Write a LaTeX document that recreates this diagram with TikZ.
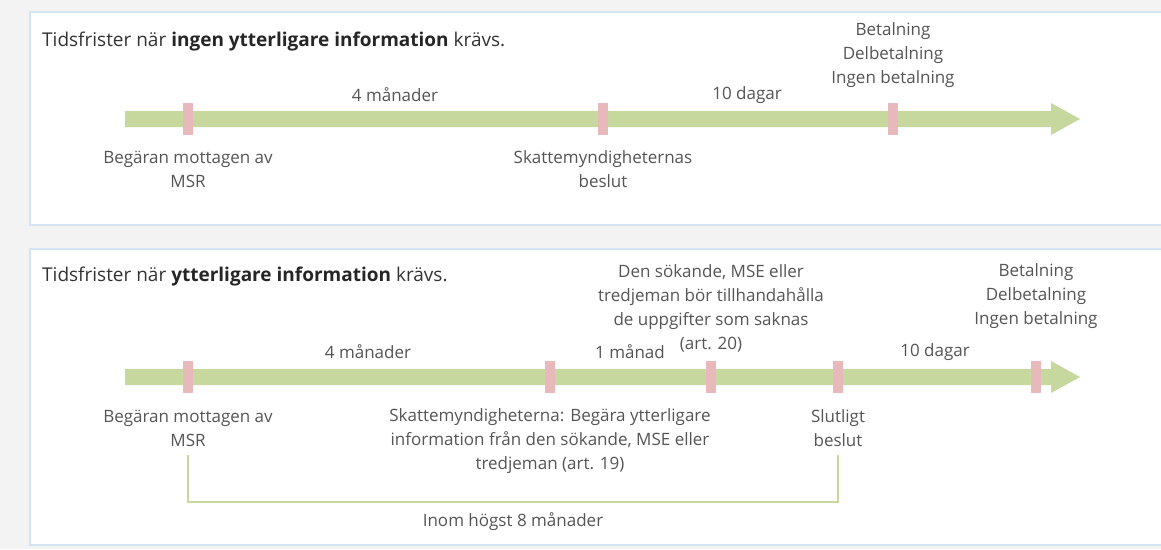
\documentclass[tikz,border=0pt]{standalone}
\usepackage{fontspec}
\setmainfont{Open Sans}
\definecolor{barc}{HTML}{C6D89E}
\definecolor{tickc}{HTML}{E8B9BA}
\definecolor{framec}{HTML}{D3E3F1}
\definecolor{bgc}{HTML}{F3F3F3}
\definecolor{lblc}{HTML}{555555}
\definecolor{ttlc}{HTML}{333333}
\tikzset{
 lab/.style={text=lblc, font=\fontsize{17}{24}\selectfont, align=center, inner sep=0pt},
 ttlstyle/.style={text=ttlc, font=\fontsize{19}{22}\selectfont, anchor=west, inner sep=0pt},
 tickmark/.style={fill=tickc, minimum width=10pt, minimum height=32pt, inner sep=0pt, draw=none},
 panel/.style={fill=white, draw=framec, line width=2pt},
 bracket/.style={draw=barc, line width=2.5pt},
 timebar/.style={fill=barc},
}
\begin{document}
\begin{tikzpicture}[x=1pt,y=-1pt]
\useasboundingbox (0,0) rectangle (1161,549);
\fill[bgc] (0,0) rectangle (1161,549);
% panels
\draw[panel] (30,12) rectangle (1164,225);
\draw[panel] (30,249) rectangle (1164,545);
% titles
\node[ttlstyle] (title1) at (42,42) {Tidsfrister när \textbf{\color{black!85}ingen ytterligare information} krävs.};
\node[ttlstyle] (title2) at (42,277) {Tidsfrister när \textbf{\color{black!85}ytterligare information} krävs.};
% timeline 1
\fill[timebar] (125,111) -- (1051,111) -- (1051,103) -- (1080,119) -- (1051,135) -- (1051,127) -- (125,127) -- cycle;
\node[tickmark] (t1a) at (188,119) {};
\node[tickmark] (t1b) at (603,119) {};
\node[tickmark] (t1c) at (893,119) {};
\node[lab] (l1a) at (395,95) {4 månader};
\node[lab] (l1b) at (747,95) {10 dagar};
\node[lab] (l1c) at (893,55) {Betalning\\Delbetalning\\Ingen betalning};
\node[lab] (l1d) at (188,169) {Begäran mottagen av\\MSR};
\node[lab] (l1e) at (603,169) {Skattemyndigheternas\\beslut};
% timeline 2
\fill[timebar] (125,369) -- (1051,369) -- (1051,361) -- (1080,377) -- (1051,393) -- (1051,385) -- (125,385) -- cycle;
\node[tickmark] (t2a) at (188,377) {};
\node[tickmark] (t2b) at (550,377) {};
\node[tickmark] (t2c) at (711,377) {};
\node[tickmark] (t2d) at (838,377) {};
\node[tickmark] (t2e) at (1036,377) {};
\node[lab] (l2a) at (368,352) {4 månader};
\node[lab] (l2b) at (630,352) {1 månad};
\node[lab] (l2c) at (935,352) {10 dagar};
\node[lab] (l2d) at (711,308) {Den sökande, MSE eller\\tredjeman bör tillhandahålla\\de uppgifter som saknas\\(art. 20)};
\node[lab] (l2e) at (1036,296) {Betalning\\Delbetalning\\Ingen betalning};
\node[lab] (l2f) at (188,428.5) {Begäran mottagen av\\MSR};
\node[lab] (l2g) at (550,441) {Skattemyndigheterna: Begära ytterligare\\information från den sökande, MSE eller\\tredjeman (art. 19)};
\node[lab] (l2h) at (838,428.5) {Slutligt\\beslut};
\node[lab] (l2i) at (513,522) {Inom högst 8 månader};
% bracket
\draw[bracket] (t2a |- 0,455) -- (t2a |- 0,502) -- (t2d |- 0,502) -- (t2d |- 0,455);
\end{tikzpicture}
\end{document}
